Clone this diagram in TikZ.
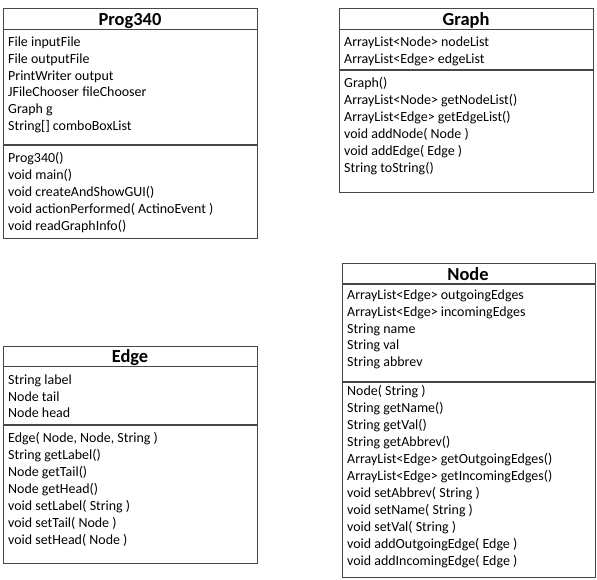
\documentclass[tikz,border=0pt]{standalone}
\usepackage{fontspec}
\setmainfont{Carlito}
\begin{document}
\begin{tikzpicture}[x=1bp,y=-1bp,
  box/.style={draw=black!72, line width=1.2bp, inner sep=0, anchor=north west},
  sepline/.style={draw=black!72, line width=1.2bp},
  ttl/.style={font=\fontsize{18.5}{20}\selectfont\bfseries, anchor=base, inner sep=0},
  txt/.style={font=\fontsize{14}{16}\selectfont, anchor=base west, inner sep=0}]
\useasboundingbox (0,0) rectangle (597,580);
% Prog340
\node[box, minimum width=254bp, minimum height=230bp] (prog) at (3,8) {};
\draw[sepline] (prog.west |- 0,29.3) -- (prog.east |- 0,29.3);
\draw[sepline] (prog.west |- 0,145) -- (prog.east |- 0,145);
\node[ttl] (progT) at (130,26) {Prog340};
\foreach \s [count=\i from 0] in {{File inputFile},{File outputFile},{PrintWriter output},{JFileChooser fileChooser},{Graph g},{String[] comboBoxList}}
  \node[txt] (pa\i) at (8,46.5+16.8*\i) {\s};
\foreach \s [count=\i from 0] in {{Prog340()},{void main()},{void createAndShowGUI()},{void actionPerformed( ActinoEvent )},{void readGraphInfo()}}
  \node[txt] (pm\i) at (8,162.5+17.1*\i) {\s};
% Graph
\node[box, minimum width=254bp, minimum height=184bp] (graph) at (339,8) {};
\draw[sepline] (graph.west |- 0,29.3) -- (graph.east |- 0,29.3);
\draw[sepline] (graph.west |- 0,70) -- (graph.east |- 0,70);
\node[ttl] (graphT) at (466,26) {Graph};
\foreach \s [count=\i from 0] in {{ArrayList<Node> nodeList},{ArrayList<Edge> edgeList}}
  \node[txt] (ga\i) at (344,46.5+16.8*\i) {\s};
\foreach \s [count=\i from 0] in {{Graph()},{ArrayList<Node> getNodeList()},{ArrayList<Edge> getEdgeList()},{void addNode( Node )},{void addEdge( Edge )},{String toString()}}
  \node[txt] (gm\i) at (344,87.5+17*\i) {\s};
% Edge
\node[box, minimum width=254bp, minimum height=217bp] (edge) at (3,345.5) {};
\draw[sepline] (edge.west |- 0,366.5) -- (edge.east |- 0,366.5);
\draw[sepline] (edge.west |- 0,425) -- (edge.east |- 0,425);
\node[ttl] (edgeT) at (130,362.5) {Edge};
\foreach \s [count=\i from 0] in {{String label},{Node tail},{Node head}}
  \node[txt] (ea\i) at (8,384.5+16.6*\i) {\s};
\foreach \s [count=\i from 0] in {{Edge( Node, Node, String )},{String getLabel()},{Node getTail()},{Node getHead()},{void setLabel( String )},{void setTail( Node )},{void setHead( Node )}}
  \node[txt] (em\i) at (8,442.5+17*\i) {\s};
% Node
\node[box, minimum width=253bp, minimum height=314bp] (nodecls) at (342,263) {};
\draw[sepline] (nodecls.west |- 0,284) -- (nodecls.east |- 0,284);
\draw[sepline] (nodecls.west |- 0,382) -- (nodecls.east |- 0,382);
\node[ttl] (nodeT) at (468,280.5) {Node};
\foreach \s [count=\i from 0] in {{ArrayList<Edge> outgoingEdges},{ArrayList<Edge> incomingEdges},{String name},{String val},{String abbrev}}
  \node[txt] (na\i) at (347,299.5+16.8*\i) {\s};
\foreach \s [count=\i from 0] in {{Node( String )},{String getName()},{String getVal()},{String getAbbrev()},{ArrayList<Edge> getOutgoingEdges()},{ArrayList<Edge> getIncomingEdges()},{void setAbbrev( String )},{void setName( String )},{void setVal( String )},{void addOutgoingEdge( Edge )},{void addIncomingEdge( Edge )}}
  \node[txt] (nm\i) at (347,395.5+17*\i) {\s};
\end{tikzpicture}
\end{document}
